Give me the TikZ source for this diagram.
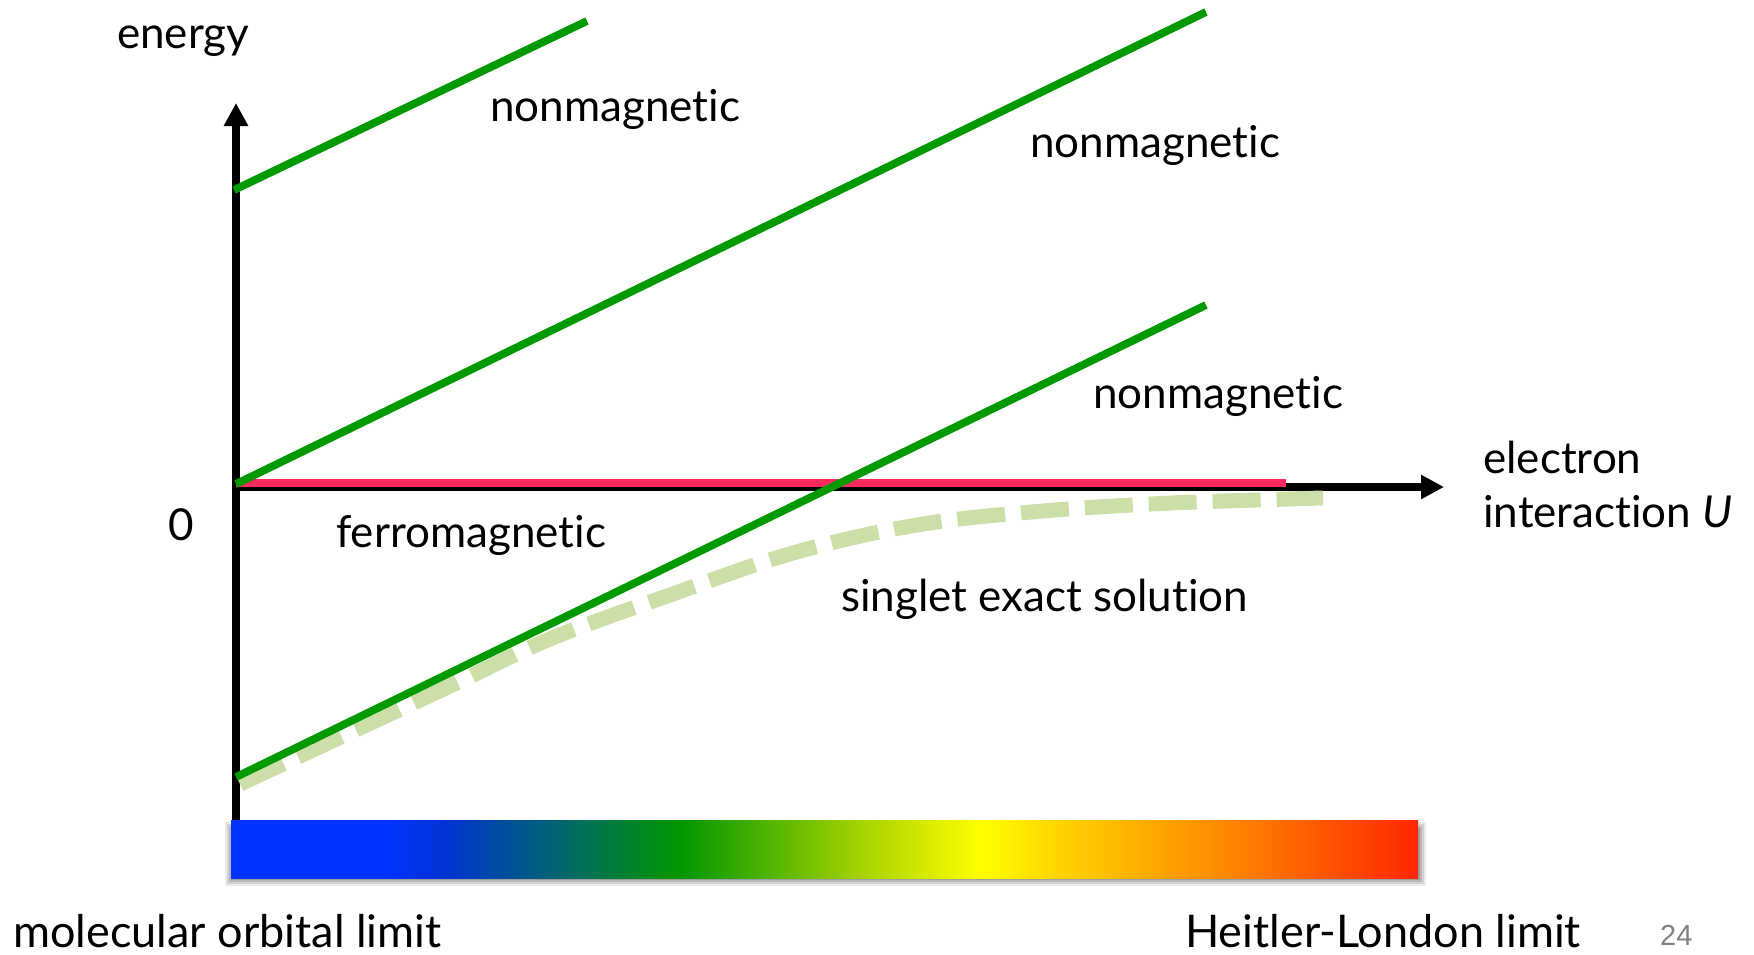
\documentclass[tikz,border=0pt]{standalone}
\usepackage{fontspec}
\setmainfont{Lato}[Ligatures=NoCommon]
\newfontfamily\numfont{Liberation Sans}
\usetikzlibrary{arrows.meta}
\definecolor{lgreen}{RGB}{0,153,0}
\definecolor{pinkred}{RGB}{255,43,94}
\definecolor{paleg}{RGB}{204,223,168}
\definecolor{cbA}{RGB}{0,51,255}
\definecolor{cbB}{RGB}{0,51,210}
\definecolor{cbC}{RGB}{0,102,110}
\definecolor{cbD}{RGB}{0,150,0}
\definecolor{cbE}{RGB}{165,210,0}
\definecolor{cbF}{RGB}{255,255,0}
\definecolor{cbG}{RGB}{255,210,0}
\definecolor{cbH}{RGB}{255,130,0}
\definecolor{cbI}{RGB}{255,38,0}
\pgfdeclarehorizontalshading{spectrum}{100bp}{color(0bp)=(cbA); color(25bp)=(cbA); color(31.5bp)=(cbA); color(34bp)=(cbB); color(38.8bp)=(cbC); color(43.85bp)=(cbD); color(51.5bp)=(cbE); color(56.6bp)=(cbF); color(60bp)=(cbG); color(67.35bp)=(cbH); color(75bp)=(cbI); color(100bp)=(cbI)}
\begin{document}
\begin{tikzpicture}[x=1pt,y=-1pt,
  lbl/.style={anchor=base west, inner sep=0pt, font=\fontsize{44}{50}\selectfont},
  limitlbl/.style={lbl, font=\fontsize{45}{50}\selectfont},
  axisline/.style={line width=8pt, -{Triangle[length=23pt,width=23pt]}},
  level/.style={lgreen, line width=7.8pt},
  ferro/.style={pinkred, line width=8pt},
  exact/.style={paleg, line width=15pt, dash pattern=on 48pt off 16pt}]
\useasboundingbox (0,0) rectangle (1754,954);
% colour bar with shadow
\foreach \d/\o in {8/0.08,6/0.1,4/0.12,2/0.14}{
  \fill[black, opacity=\o] (231-\d+2,820+4-\d+6) rectangle (1418+\d,878+\d);
}
\shade[shading=spectrum] (231,820) rectangle (1418,878);
% axes
\coordinate (ybot) at (236,820);
\coordinate (ytop) at (236,103);
\coordinate (xstart) at (232,487);
\coordinate (xend) at (1444,487);
\draw[axisline] (ybot) -- (ytop);
\draw[axisline] (xstart) -- (xend);
% ferromagnetic level
\coordinate (f0) at (236,483);
\coordinate (f1) at (1286,483);
\draw[ferro] (f0) -- (f1);
% exact singlet
\draw[exact] plot[smooth, tension=0.6] coordinates {(240,784) (450,686) (550,639) (670,595) (793,553) (917,525) (1043,511) (1172,503) (1323,498)};
% nonmagnetic levels
\coordinate (a0) at (234,190);
\coordinate (a1) at (587,21);
\coordinate (b0) at (236,484);
\coordinate (b1) at (1206,12);
\coordinate (c0) at (236,777);
\coordinate (c1) at (1206,305);
\draw[level] (a0) -- (a1);
\draw[level] (b0) -- (b1);
\draw[level] (c0) -- (c1);
% labels
\node[lbl] (energy) at (117,48) {energy};
\node[lbl] (nm1) at (490,121) {nonmagnetic};
\node[lbl] (nm2) at (1030,157) {nonmagnetic};
\node[lbl] (nm3) at (1093,408) {nonmagnetic};
\node[lbl] (fm) at (336,547) {ferromagnetic};
\node[lbl] (sg) at (841,611) {singlet exact solution};
\node[lbl] (zero) at (168,540) {0};
\node[lbl] (el1) at (1483,473) {electron};
\node[lbl] (el2) at (1483,527) {interaction \textit{U}};
\node[limitlbl] (mo) at (13,947) {molecular orbital limit};
\node[limitlbl] (hl) at (1185,947) {Heitler-London limit};
\node[anchor=base west, inner sep=0pt, text=black!50, font=\numfont\fontsize{29}{32}\selectfont] (pg) at (1660,945) {24};
\end{tikzpicture}
\end{document}
